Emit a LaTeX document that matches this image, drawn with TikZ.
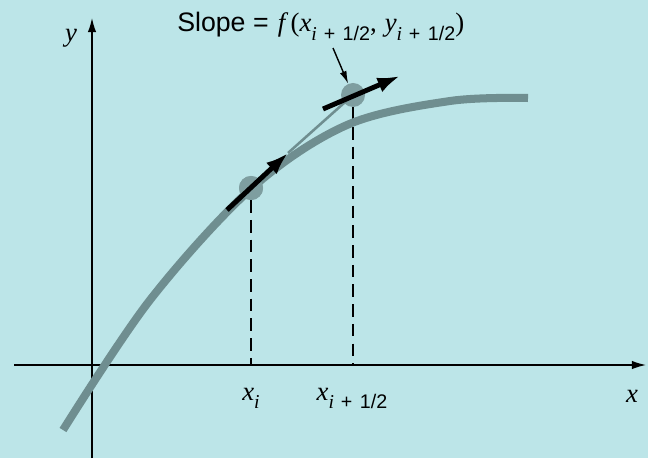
\documentclass[tikz,border=0pt]{standalone}
\usepackage{fontspec}
\setmainfont{Liberation Serif}
\setsansfont{Liberation Sans}
\usetikzlibrary{arrows.meta,calc}
\definecolor{water}{HTML}{BCE5E8}
\definecolor{curve}{HTML}{6F8E90}
\definecolor{spot}{HTML}{7E9EA0}
\newcommand{\halfsub}{\raisebox{-0.32em}{\fontsize{14}{14}\selectfont\textit{i}\hspace{0.35em}\textsf{+\hspace{0.1em} 1/2}}}
\newcommand{\isub}{\raisebox{-0.32em}{\fontsize{14}{14}\selectfont\textit{i}}}

\begin{document}
\begin{tikzpicture}[x=0.025cm,y=-0.025cm,font=\fontsize{19}{22}\selectfont]
  \tikzset{
    axis/.style={line width=1pt,-{Latex[length=10pt,width=6pt]}},
    guide/.style={line width=1pt,dash pattern=on 9pt off 5pt},
    dot/.style={circle,fill=spot,minimum size=0.6cm,inner sep=0pt},
    tangent/.style={line width=3.5pt,-{Latex[length=16pt,width=11pt]}},
    lbl/.style={anchor=base,inner sep=0pt}
  }
  \fill[water] (0,0) rectangle (648,458);
  % axes
  \coordinate (xl) at (14,365); \coordinate (xr) at (646,365);
  \coordinate (yb) at (92,458); \coordinate (yt) at (92,18);
  \draw[axis] (xl) -- (xr);
  \draw[axis] (yb) -- (yt);
  \node[lbl] (ylab) at (71,42) {\textit{y}};
  \node[lbl] (xlab) at (632,402) {\textit{x}};
  % the two points
  \node[dot] (p1) at (251,188) {};
  \node[dot] (p2) at (353,95) {};
  \draw[guide] (p1.south) -- (p1 |- xl);
  \draw[guide] (p2.south) -- (p2 |- xl);
  \node[lbl] (lxi) at (251,400) {\textit{x}\isub};
  \node[lbl] (lxh) at (352,400) {\textit{x}\halfsub};
  % solution curve
  \draw[curve,line width=5.7pt] plot[smooth,tension=0.55] coordinates
    {(63,430) (150,300) (252,188) (347,125) (450,101) (528,98)};
  \node[dot] at (p1) {};
  % slope arrows
  \coordinate (a1s) at ($(p1)+(-24,22)$);
  \coordinate (a1e) at ($(p1)+(37,-35)$);
  \coordinate (a2s) at ($(p2)+(-30,14)$);
  \coordinate (a2e) at ($(p2)+(47,-19)$);
  \draw[curve,line width=1.8pt] (a1e) -- (p2.center);
  \draw[tangent] (a1s) -- (a1e);
  \draw[tangent] (a2s) -- (a2e);
  % title
  \node[anchor=base west,inner sep=0pt] (title) at (177,32)
    {\textsf{Slope =}\hspace{0.35em}\textit{f}\hspace{0.08em}(\textit{x}\halfsub,\hspace{0.3em}\textit{y}\halfsub)};
  \coordinate (ptr) at (333,48);
  \draw[line width=1pt,-{Latex[length=9pt,width=5pt]}] (ptr) -- (p2);
\end{tikzpicture}
\end{document}
